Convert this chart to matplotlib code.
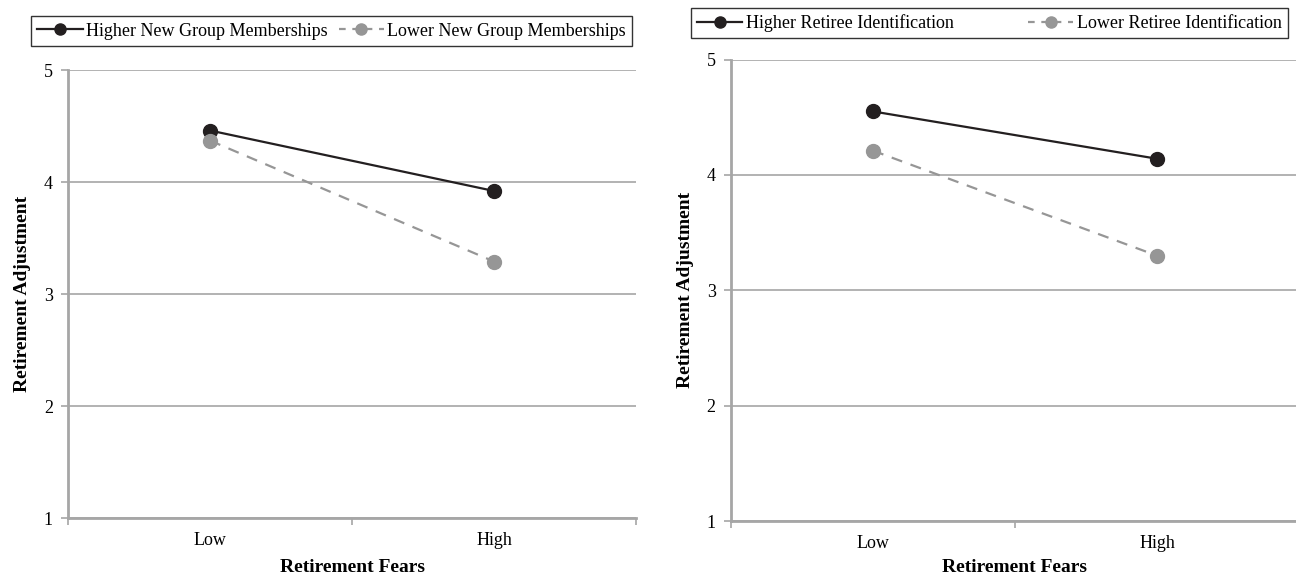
import matplotlib.pyplot as plt
from matplotlib.lines import Line2D

plt.rcParams['font.family'] = ['Liberation Serif', 'DejaVu Serif']

categories = ['Low', 'High']
y_ticks = [1, 2, 3, 4, 5]

# left panel: new group memberships
left_labels = ['Higher New Group Memberships', 'Lower New Group Memberships']
left_higher = [4.46, 3.92]
left_lower = [4.37, 3.29]

# right panel: retiree identification
right_labels = ['Higher Retiree Identification', 'Lower Retiree Identification']
right_higher = [4.55, 4.14]
right_lower = [4.21, 3.30]

dark = '#231f20'
grey = '#969696'
axis_grey = '#a6a6a6'

fig = plt.figure(figsize=(12.96, 5.75), dpi=100)
ax1 = fig.add_axes([0.0525, 0.0991, 0.4383, 0.7791])
ax2 = fig.add_axes([0.564, 0.0939, 0.4383, 0.8026])


def draw_panel(ax, higher, lower, labels, legend_center, colspace, ylabelpad, xlabelpad):
    x = list(range(len(categories)))
    ax.plot(x, higher, color=dark, lw=1.6, marker='o', ms=10, label=labels[0])
    ax.plot(x, lower, color=grey, lw=1.6, ls=(0, (5, 4)), marker='o', ms=10,
            label=labels[1])
    ax.set_xlim(-0.5, 1.5)
    ax.set_ylim(1, 5)
    ax.set_yticks(y_ticks)
    ax.set_xticks(x)
    ax.set_xticklabels(categories)
    ax.set_xticks([-0.5, 0.5, 1.5], minor=True)
    ax.tick_params(axis='x', which='major', length=0, pad=10, labelsize=13)
    ax.tick_params(axis='x', which='minor', length=5, color=axis_grey, width=1.2)
    ax.tick_params(axis='y', length=5, color=axis_grey, width=1.2, pad=6, labelsize=13)
    ax.grid(axis='y', color=axis_grey, lw=1.2)
    ax.set_axisbelow(True)
    for s in ['top', 'right']:
        ax.spines[s].set_visible(False)
    for s in ['left', 'bottom']:
        ax.spines[s].set_color(axis_grey)
        ax.spines[s].set_linewidth(2)
    ax.set_xlabel('Retirement Fears', fontsize=14, fontweight='bold', labelpad=xlabelpad)
    ax.set_ylabel('Retirement Adjustment', fontsize=14, fontweight='bold',
                  labelpad=ylabelpad)
    handles = [
        Line2D([], [], color=dark, lw=1.6, marker='o', ms=8),
        Line2D([], [], color=grey, lw=1.6, ls=(0, (3, 3)), marker='o', ms=8),
    ]
    leg = fig.legend(handles, labels, loc='center', bbox_to_anchor=legend_center,
                     ncol=2, fontsize=13, frameon=True,
                     fancybox=False, edgecolor='black', handlelength=2.5,
                     handletextpad=0.2, columnspacing=colspace,
                     borderaxespad=0, borderpad=0.35)
    leg.get_frame().set_linewidth(1)


draw_panel(ax1, left_higher, left_lower, left_labels,
           (0.256, 0.946), 0.6, 9, 7)
draw_panel(ax2, right_higher, right_lower, right_labels,
           (0.7635, 0.960), 4.1, 9, 5)

fig.savefig('out.png', dpi=100)
